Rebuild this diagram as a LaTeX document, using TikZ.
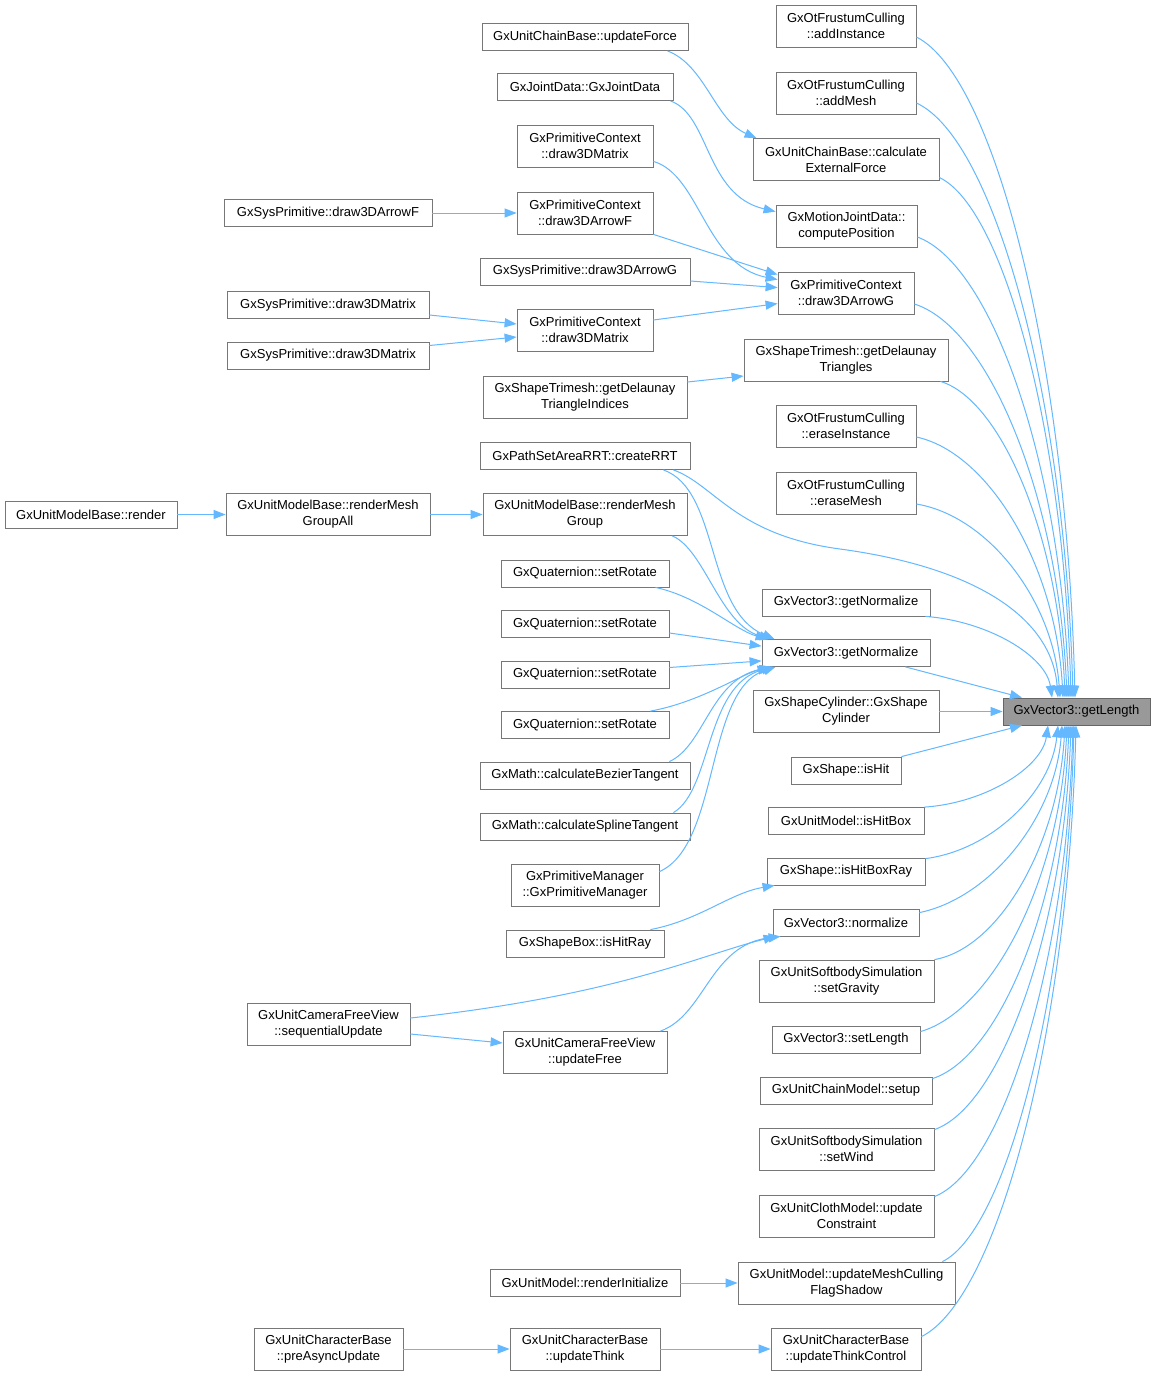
\documentclass[tikz,border=0pt]{standalone}
\usepackage{fontspec}
\setmainfont{Liberation Sans}
\usetikzlibrary{arrows.meta}
\definecolor{edgeblue}{HTML}{63B8FF}
\definecolor{boxgray}{HTML}{777777}
\definecolor{mainfill}{HTML}{999999}
\begin{document}
\begin{tikzpicture}[x=1pt,y=-1pt,
 box/.style={draw=boxgray, fill=white, line width=0.8pt, inner sep=0pt, align=center,
   font=\fontsize{13}{16}\selectfont, minimum height=27},
 boxtwo/.style={box, minimum height=42},
 edge/.style={draw=edgeblue, line width=1pt, -{Triangle[length=12pt,width=9pt]}}]
\fill[white] (0,0) rectangle (1155,1376);
\useasboundingbox (0,0) rectangle (1155,1376);

% target
\node[box, fill=mainfill, draw=black!60, minimum width=147] (gl) at (1076.5,711.5) {GxVector3::getLength};

% right column
\node[boxtwo, minimum width=140] (r1) at (846,26) {GxOtFrustumCulling\\::addInstance};
\node[boxtwo, minimum width=140] (r2) at (846,93) {GxOtFrustumCulling\\::addMesh};
\node[boxtwo, minimum width=186] (r3) at (846,159.5) {GxUnitChainBase::calculate\\ExternalForce};
\node[boxtwo, minimum width=141] (r4) at (846.5,226) {GxMotionJointData::\\computePosition};
\node[boxtwo, minimum width=136] (r5) at (846,293) {GxPrimitiveContext\\::draw3DArrowG};
\node[boxtwo, minimum width=204] (r6) at (846,360) {GxShapeTrimesh::getDelaunay\\Triangles};
\node[boxtwo, minimum width=140] (r7) at (846,426) {GxOtFrustumCulling\\::eraseInstance};
\node[boxtwo, minimum width=140] (r8) at (846,493) {GxOtFrustumCulling\\::eraseMesh};
\node[box, minimum width=168] (r9) at (846,602.5) {GxVector3::getNormalize};
\node[box, minimum width=168] (r10) at (846,653) {GxVector3::getNormalize};
\node[boxtwo, minimum width=186] (r11) at (846,711.5) {GxShapeCylinder::GxShape\\Cylinder};
\node[box, minimum width=110] (r12) at (846,770.5) {GxShape::isHit};
\node[box, minimum width=156] (r13) at (846,821) {GxUnitModel::isHitBox};
\node[box, minimum width=158] (r14) at (846,871.5) {GxShape::isHitBoxRay};
\node[box, minimum width=146] (r15) at (846,922.5) {GxVector3::normalize};
\node[boxtwo, minimum width=175] (r16) at (846.5,981) {GxUnitSoftbodySimulation\\::setGravity};
\node[box, minimum width=148] (r17) at (846,1039.5) {GxVector3::setLength};
\node[box, minimum width=172] (r18) at (846,1090.5) {GxUnitChainModel::setup};
\node[boxtwo, minimum width=175] (r19) at (846.5,1149) {GxUnitSoftbodySimulation\\::setWind};
\node[boxtwo, minimum width=175] (r20) at (846.5,1216) {GxUnitClothModel::update\\Constraint};
\node[boxtwo, minimum width=217] (r21) at (846.5,1283) {GxUnitModel::updateMeshCulling\\FlagShadow};
\node[boxtwo, minimum width=150] (r22) at (846,1349) {GxUnitCharacterBase\\::updateThinkControl};

% middle-left column
\node[box, minimum width=206] (ufo) at (585,37) {GxUnitChainBase::updateForce};
\node[box, minimum width=176] (jd) at (585,87) {GxJointData::GxJointData};
\node[boxtwo, minimum width=136] (dma) at (585,146) {GxPrimitiveContext\\::draw3DMatrix};
\node[boxtwo, minimum width=136] (daf) at (585,213) {GxPrimitiveContext\\::draw3DArrowF};
\node[box, minimum width=210] (sdag) at (585,271.5) {GxSysPrimitive::draw3DArrowG};
\node[boxtwo, minimum width=136] (dmb) at (585,330) {GxPrimitiveContext\\::draw3DMatrix};
\node[boxtwo, minimum width=204] (ti) at (585,397) {GxShapeTrimesh::getDelaunay\\TriangleIndices};
\node[box, minimum width=210] (crr) at (585,456) {GxPathSetAreaRRT::createRRT};
\node[boxtwo, minimum width=204] (rmg) at (585,514.5) {GxUnitModelBase::renderMesh\\Group};
\node[box, minimum width=168] (sr1) at (585,573.5) {GxQuaternion::setRotate};
\node[box, minimum width=168] (sr2) at (585,624) {GxQuaternion::setRotate};
\node[box, minimum width=168] (sr3) at (585,674.5) {GxQuaternion::setRotate};
\node[box, minimum width=168] (sr4) at (585,725) {GxQuaternion::setRotate};
\node[box, minimum width=210] (bz) at (585,775.5) {GxMath::calculateBezierTangent};
\node[box, minimum width=210] (sp) at (585,826.5) {GxMath::calculateSplineTangent};
\node[boxtwo, minimum width=148] (pm) at (585,885) {GxPrimitiveManager\\::GxPrimitiveManager};
\node[box, minimum width=158] (ihr) at (585,943.5) {GxShapeBox::isHitRay};
\node[boxtwo, minimum width=164] (uf) at (585,1052.5) {GxUnitCameraFreeView\\::updateFree};
\node[box, minimum width=190] (ri) at (585,1283) {GxUnitModel::renderInitialize};
\node[boxtwo, minimum width=150] (ut) at (585,1349) {GxUnitCharacterBase\\::updateThink};

% left column
\node[box, minimum width=208] (sdaf) at (328,213) {GxSysPrimitive::draw3DArrowF};
\node[box, minimum width=202] (sdm1) at (328,305) {GxSysPrimitive::draw3DMatrix};
\node[box, minimum width=202] (sdm2) at (328,355.5) {GxSysPrimitive::draw3DMatrix};
\node[boxtwo, minimum width=204] (rmga) at (328,514.5) {GxUnitModelBase::renderMesh\\GroupAll};
\node[boxtwo, minimum width=163] (sq) at (328.5,1024) {GxUnitCameraFreeView\\::sequentialUpdate};
\node[boxtwo, minimum width=149] (pau) at (328.5,1349) {GxUnitCharacterBase\\::preAsyncUpdate};

% far left
\node[box, minimum width=172] (rnd) at (91,514.5) {GxUnitModelBase::render};

% edges into getLength (top)
\draw[edge] ([yshift=-11pt]r1.east) .. controls (996,77) and (1067,367) .. ([xshift=-1.5pt]gl.north);
\draw[edge] ([yshift=-10pt]r2.east) .. controls (995,139) and (1065,400) .. ([xshift=-3.5pt]gl.north);
\draw[edge] ([yshift=-18pt]r3.east) .. controls (1005,209) and (1064,437) .. ([xshift=-5.5pt]gl.north);
\draw[edge] ([yshift=-11pt]r4.east) .. controls (993,265) and (1061,467) .. ([xshift=-7.5pt]gl.north);
\draw[edge] ([yshift=-11pt]r5.east) .. controls (990,328) and (1059,500) .. ([xshift=-9.5pt]gl.north);
\draw[edge] ([xshift=-8pt]r6.south east) .. controls (1002,400) and (1059,539) .. ([xshift=-11.5pt]gl.north);
\draw[edge] ([yshift=-11pt]r7.east) .. controls (990,453) and (1056,567) .. ([xshift=-13.5pt]gl.north);
\draw[edge] ([yshift=-11pt]r8.east) .. controls (988,516) and (1053,600) .. ([xshift=-16.5pt]gl.north);
\draw[edge] ([xshift=-17pt]crr.south east) .. controls (715,485) and (735,535) .. (840,549)
   .. controls (980,568) and (1052,620) .. ([xshift=-18.5pt]gl.north);
\draw[edge] ([xshift=-5pt]r9.south east) .. controls (988,621) and (1046,656) .. ([xshift=-24.5pt]gl.north);
\draw[edge] ([xshift=-25pt]r10.south east) -- ([xshift=-54.5pt]gl.north);
\draw[edge] (r11.east) -- (gl.west);
% edges into getLength (bottom)
\draw[edge] (r12.north east) -- ([xshift=-54.5pt]gl.south);
\draw[edge] (r13.north east) .. controls (986,803) and (1042,767) .. ([xshift=-28.5pt]gl.south);
\draw[edge] ([yshift=-1pt]r14.north east) .. controls (992,850) and (1051,792) .. ([xshift=-18.5pt]gl.south);
\draw[edge] ([yshift=-4pt]r15.north east) .. controls (990,898) and (1055,818) .. ([xshift=-14.5pt]gl.south);
\draw[edge] (r16.north east) .. controls (1000,948) and (1058,844) .. ([xshift=-11.5pt]gl.south);
\draw[edge] ([yshift=-6pt]r17.north east) .. controls (994,1010) and (1060,877) .. ([xshift=-9.5pt]gl.south);
\draw[edge] ([yshift=-2pt]r18.north east) .. controls (1000,1057) and (1062,902) .. ([xshift=-7.5pt]gl.south);
\draw[edge] ([yshift=-2pt]r19.north east) .. controls (1002,1106) and (1064,928) .. ([xshift=-5.5pt]gl.south);
\draw[edge] ([yshift=-2pt]r20.north east) .. controls (1004,1169) and (1066,961) .. ([xshift=-3.5pt]gl.south);
\draw[edge] ([xshift=-13pt]r21.north east) .. controls (1007,1230) and (1067,994) .. ([xshift=-2.5pt]gl.south);
\draw[edge] ([yshift=-9pt]r22.north east) .. controls (998,1299) and (1068,1031) .. ([xshift=-0.5pt]gl.south);

% upper middle edges
\draw[edge] ([xshift=-21pt]ufo.south east) .. controls (705,65) and (715,120) .. ([xshift=4pt]r3.north west);
\draw[edge] ([xshift=-3pt]jd.south east) .. controls (710,115) and (705,195) .. ([yshift=-7pt]r4.north west);
\draw[edge] ([yshift=6pt]dma.south east) .. controls (700,175) and (705,265) .. ([yshift=-8pt]r5.north west);
\draw[edge] (daf.south east) -- ([yshift=-3pt]r5.north west);
\draw[edge] ([yshift=-9.5pt]sdag.east) -- ([yshift=-16pt]r5.north west);
\draw[edge] ([yshift=10pt]dmb.east) -- ([yshift=-32pt]r5.north west);
\draw[edge] (sdaf.east) -- (daf.west);
\draw[edge] ([yshift=-10pt]sdm1.east) -- ([yshift=6pt]dmb.west);
\draw[edge] ([yshift=10pt]sdm2.east) -- ([yshift=-7pt]dmb.west);
\draw[edge] ([yshift=15pt]ti.east) -- ([yshift=-16pt]r6.west);

% render chain
\draw[edge] (rnd.east) -- (rmga.west);
\draw[edge] (rmga.east) -- (rmg.west);

% into getNormalize (second)
\draw[edge] ([xshift=-27pt]crr.south east) .. controls (720,490) and (705,610) .. ([xshift=13pt]r10.north west);
\draw[edge] ([xshift=-15pt]rmg.south east) .. controls (705,550) and (720,625) .. ([xshift=10pt]r10.north west);
\draw[edge] ([xshift=-14pt]sr1.south east) .. controls (700,597) and (735,630) .. ([xshift=6pt]r10.north west);
\draw[edge] ([yshift=-9pt]sr2.east) -- ([yshift=-7pt]r10.north west);
\draw[edge] ([yshift=7pt]sr3.east) -- ([yshift=6pt]r10.south west);
\draw[edge] ([xshift=-19pt]sr4.north east) .. controls (700,702) and (740,675) .. ([xshift=8pt]r10.south west);
\draw[edge] ([xshift=-21pt]bz.north east) .. controls (705,745) and (710,680) .. ([xshift=10pt]r10.south west);
\draw[edge] ([xshift=-17pt]sp.north east) .. controls (712,790) and (705,685) .. ([xshift=12pt]r10.south west);
\draw[edge] ([yshift=-8pt]pm.north east) .. controls (720,845) and (705,690) .. ([xshift=14pt]r10.south west);

% lower middle edges
\draw[edge] ([xshift=-14pt]ihr.north east) .. controls (700,920) and (730,893) .. ([xshift=8pt]r14.south west);
\draw[edge] ([yshift=6pt]sq.east) .. controls (620,995) and (700,955) .. ([xshift=3pt]r15.south west);
\draw[edge] ([yshift=-10pt]sq.east) -- ([yshift=9.5pt]uf.west);
\draw[edge] ([xshift=-7pt]uf.north east) .. controls (705,1015) and (710,945) .. ([xshift=8pt]r15.south west);
\draw[edge] (ri.east) -- (r21.west);
\draw[edge] (pau.east) -- (ut.west);
\draw[edge] (ut.east) -- (r22.west);
\end{tikzpicture}
\end{document}
